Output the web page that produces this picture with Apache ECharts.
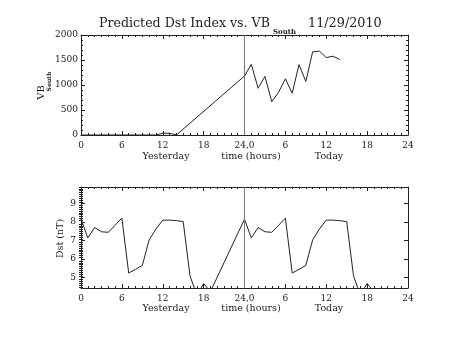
<!DOCTYPE html>
<html>
<head>
<meta charset="utf-8">
<script src="https://cdn.jsdelivr.net/npm/echarts@6/dist/echarts.min.js"></script>
<style>
  html, body { margin: 0; padding: 0; background: #fff; }
  #chart { width: 453px; height: 340px; }
</style>
</head>
<body>
<div id="chart"></div>
<script>
// Hour tick labels shared by both panels (two days laid end to end)
const hourTickLabels = ['0', '6', '12', '18', '24,0', '6', '12', '18', '24'];

// VB_South samples: yesterday hours 0-14, then today hours 0-14 (24-38 on the axis)
const vbHours = [0, 1, 2, 3, 4, 5, 6, 7, 8, 9, 10, 11, 12, 13, 14,
                 24, 25, 26, 27, 28, 29, 30, 31, 32, 33, 34, 35, 36, 37, 38];
const vbSouth = [0, 0, 0, 0, 0, 0, 0, 0, 0, 0, 0, 0, 35, 35, 0,
                 1180, 1414, 935, 1172, 667, 855, 1125, 835, 1408, 1071, 1663, 1677, 1549, 1576, 1509];

// Predicted Dst (nT): yesterday hours 0-19, today hours 24-43
const dstHours = [0, 1, 2, 3, 4, 5, 6, 7, 8, 9, 10, 11, 12, 13, 14, 15, 16, 17, 18, 19,
                  24, 25, 26, 27, 28, 29, 30, 31, 32, 33, 34, 35, 36, 37, 38, 39, 40, 41, 42, 43];
const dstValues = [8.16, 7.15, 7.71, 7.48, 7.45, 7.83, 8.22, 5.25, 5.45, 5.66, 7.04, 7.63, 8.11, 8.11, 8.08, 8.03, 5.10, 4.05, 4.68, 4.25,
                   8.16, 7.15, 7.71, 7.48, 7.45, 7.83, 8.22, 5.25, 5.45, 5.66, 7.04, 7.63, 8.11, 8.11, 8.08, 8.03, 5.10, 4.05, 4.68, 4.25];

// Axis ranges and tick values
const vbRange = [0, 2000];
const dstRange = [4.44, 9.9];
const dstMajorTicks = [5, 6, 7, 8, 9];
const dstMinorTicks = [];
for (let i = 45; i <= 99; i++) { if (i % 10 !== 0) dstMinorTicks.push(i / 10); }

const FONT = 'DejaVu Serif';
const INK = '#222';

const chart = echarts.init(document.getElementById('chart'), null, { renderer: 'canvas' });

function hourLabel(v) {
  const idx = Math.round(v / 6);
  return hourTickLabels[idx] !== undefined ? hourTickLabels[idx] : '';
}

function xAxes(gridIndex, margin) {
  const common = {
    type: 'value', gridIndex: gridIndex, min: 0, max: 48, interval: 6,
    axisLine: { show: true, onZero: false, lineStyle: { color: INK, width: 1 } },
    axisTick: { show: true, inside: true, length: 4, lineStyle: { color: INK } },
    minorTick: { show: true, splitNumber: 6, length: 2, lineStyle: { color: INK } },
    splitLine: { show: false }
  };
  return [
    Object.assign({}, common, {
      position: 'bottom',
      axisLabel: { show: true, margin: margin, color: INK, fontFamily: FONT, fontSize: 9, formatter: hourLabel }
    }),
    Object.assign({}, common, { position: 'top', axisLabel: { show: false } })
  ];
}

const option = {
  animation: false,
  backgroundColor: '#fff',
  grid: [
    { left: 81, top: 35, width: 327, height: 100 },
    { left: 81, top: 187, width: 327, height: 101 }
  ],
  xAxis: [].concat(xAxes(0, 6), xAxes(1, 6)),
  yAxis: [
    {
      type: 'value', gridIndex: 0, position: 'left', min: vbRange[0], max: vbRange[1], interval: 500,
      axisLine: { show: true, onZero: false, lineStyle: { color: INK } },
      axisTick: { show: true, inside: true, length: 4, lineStyle: { color: INK } },
      minorTick: { show: true, splitNumber: 5, length: 2, lineStyle: { color: INK } },
      axisLabel: { color: INK, fontFamily: FONT, fontSize: 9, margin: 3, formatter: v => String(v) },
      splitLine: { show: false }
    },
    {
      type: 'value', gridIndex: 0, position: 'right', min: vbRange[0], max: vbRange[1], interval: 500,
      axisLine: { show: true, onZero: false, lineStyle: { color: INK } },
      axisTick: { show: true, inside: true, length: 4, lineStyle: { color: INK } },
      minorTick: { show: true, splitNumber: 5, length: 2, lineStyle: { color: INK } },
      axisLabel: { show: false },
      splitLine: { show: false }
    },
    {
      type: 'value', gridIndex: 1, position: 'left', min: dstRange[0], max: dstRange[1],
      axisLine: { show: true, onZero: false, lineStyle: { color: INK } },
      axisTick: { show: true, inside: true, length: 4, customValues: dstMajorTicks, lineStyle: { color: INK } },
      axisLabel: { color: INK, fontFamily: FONT, fontSize: 9, margin: 5, customValues: dstMajorTicks },
      splitLine: { show: false }
    },
    {
      type: 'value', gridIndex: 1, position: 'right', min: dstRange[0], max: dstRange[1],
      axisLine: { show: true, onZero: false, lineStyle: { color: INK } },
      axisTick: { show: true, inside: true, length: 4, customValues: dstMajorTicks, lineStyle: { color: INK } },
      axisLabel: { show: false },
      splitLine: { show: false }
    },
    {
      type: 'value', gridIndex: 1, position: 'left', min: dstRange[0], max: dstRange[1],
      axisLine: { show: false },
      axisTick: { show: true, inside: true, length: 2, customValues: dstMinorTicks, lineStyle: { color: INK } },
      axisLabel: { show: false },
      splitLine: { show: false }
    },
    {
      type: 'value', gridIndex: 1, position: 'right', min: dstRange[0], max: dstRange[1],
      axisLine: { show: false },
      axisTick: { show: true, inside: true, length: 2, customValues: dstMinorTicks, lineStyle: { color: INK } },
      axisLabel: { show: false },
      splitLine: { show: false }
    }
  ],
  series: [
    {
      type: 'line', xAxisIndex: 0, yAxisIndex: 0,
      data: vbHours.map((h, i) => [h, vbSouth[i]]),
      symbol: 'none', clip: true,
      lineStyle: { color: INK, width: 1 },
      markLine: {
        silent: true, symbol: ['none', 'none'], label: { show: false },
        lineStyle: { color: '#777', width: 1, type: 'solid' },
        data: [{ xAxis: 24 }]
      }
    },
    {
      type: 'line', xAxisIndex: 2, yAxisIndex: 2,
      data: dstHours.map((h, i) => [h, dstValues[i]]),
      symbol: 'none', clip: true,
      lineStyle: { color: INK, width: 1 },
      markLine: {
        silent: true, symbol: ['none', 'none'], label: { show: false },
        lineStyle: { color: '#777', width: 1, type: 'solid' },
        data: [{ xAxis: 24 }]
      }
    }
  ],
  graphic: [
    // Title with subscripted VB_South
    { type: 'text', left: 99, top: 17, style: { text: 'Predicted Dst Index vs. VB', fill: INK, font: '12.6px "DejaVu Serif"' } },
    { type: 'text', left: 273, top: 29, style: { text: 'South', fill: INK, font: 'bold 7px "DejaVu Serif"' } },
    { type: 'text', left: 308, top: 17, style: { text: '11/29/2010', fill: INK, font: '12.8px "DejaVu Serif"' } },
    // Upper panel axis titles
    { type: 'text', x: 41, y: 92.5, rotation: Math.PI / 2, style: { text: 'VB', fill: INK, font: '10px "DejaVu Serif"', align: 'center', verticalAlign: 'middle' } },
    { type: 'text', x: 49.5, y: 81.5, rotation: Math.PI / 2, style: { text: 'South', fill: INK, font: 'bold 6px "DejaVu Serif"', align: 'center', verticalAlign: 'middle' } },
    { type: 'text', x: 166, y: 157, style: { text: 'Yesterday', fill: INK, font: '9.5px "DejaVu Serif"', align: 'center', verticalAlign: 'middle' } },
    { type: 'text', x: 251, y: 157, style: { text: 'time (hours)', fill: INK, font: '9.5px "DejaVu Serif"', align: 'center', verticalAlign: 'middle' } },
    { type: 'text', x: 329, y: 157, style: { text: 'Today', fill: INK, font: '9.5px "DejaVu Serif"', align: 'center', verticalAlign: 'middle' } },
    // Lower panel axis titles
    { type: 'text', x: 61, y: 238.5, rotation: Math.PI / 2, style: { text: 'Dst (nT)', fill: INK, font: '9.5px "DejaVu Serif"', align: 'center', verticalAlign: 'middle' } },
    { type: 'text', x: 166, y: 309, style: { text: 'Yesterday', fill: INK, font: '9.5px "DejaVu Serif"', align: 'center', verticalAlign: 'middle' } },
    { type: 'text', x: 251, y: 309, style: { text: 'time (hours)', fill: INK, font: '9.5px "DejaVu Serif"', align: 'center', verticalAlign: 'middle' } },
    { type: 'text', x: 329, y: 309, style: { text: 'Today', fill: INK, font: '9.5px "DejaVu Serif"', align: 'center', verticalAlign: 'middle' } }
  ]
};

chart.setOption(option);
</script>
</body>
</html>
